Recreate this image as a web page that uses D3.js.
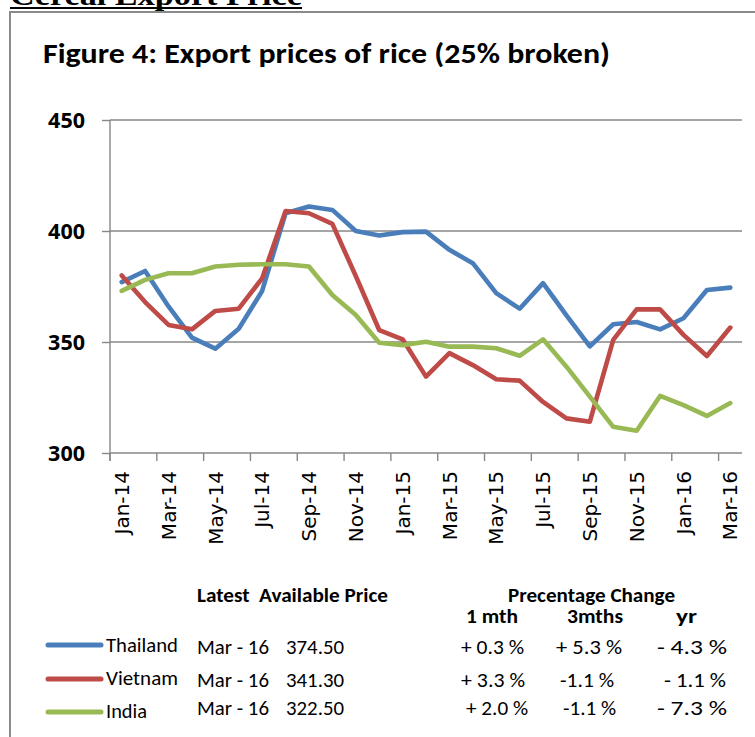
<!DOCTYPE html>
<html>
<head>
<meta charset="utf-8">
<script src="https://cdn.jsdelivr.net/npm/d3@7"></script>
<style>
  html, body { margin: 0; padding: 0; background: #fff; }
  svg { display: block; }
  svg text { white-space: pre; }
</style>
</head>
<body>
<svg id="chart" width="755" height="737"></svg>
<script>
// ---------------- DATA ----------------
const months = ["Jan-14","Feb-14","Mar-14","Apr-14","May-14","Jun-14","Jul-14","Aug-14","Sep-14","Oct-14","Nov-14","Dec-14",
  "Jan-15","Feb-15","Mar-15","Apr-15","May-15","Jun-15","Jul-15","Aug-15","Sep-15","Oct-15","Nov-15","Dec-15",
  "Jan-16","Feb-16","Mar-16"];
const seriesNames = ["Thailand", "Vietnam", "India"];
const thailand = [377, 382, 366, 352, 347, 356, 373, 408, 411, 409.5, 400, 398, 399.5, 399.7, 391.5, 385.5, 372, 365, 376.5, 362, 348, 358, 359, 355.7, 360.7, 373.4, 374.5];
const vietnam  = [380, 368, 357.7, 355.7, 364, 365, 378.7, 409, 408, 403.2, 379.7, 355.4, 351.2, 334.4, 345, 339.6, 333.2, 332.6, 323, 315.6, 314.1, 351, 364.7, 364.7, 353.2, 343.7, 356.5];
const india    = [373, 378, 381, 381, 384, 384.8, 385, 385, 384, 371.2, 362.2, 349.7, 348.6, 350.1, 347.9, 347.9, 347.2, 343.8, 351.2, 338.9, 325.4, 311.8, 310, 325.7, 321.6, 316.7, 322.5];
const yTicks = [300, 350, 400, 450];
const xLabelMonths = months.filter((m, i) => i % 2 === 0);

// table
const latestDates = ["Mar - 16", "Mar - 16", "Mar - 16"];
const latestPrices = ["374.50", "341.30", "322.50"];
const change1m = ["+ 0.3 %", "+ 3.3 %", "+ 2.0 %"];
const change3m = ["+ 5.3 %", "-1.1 %", "-1.1 %"];
const changeYr = ["- 4.3 %", "- 1.1 %", "- 7.3 %"];

// ---------------- STYLE ----------------
const colors = ["#4A7EBB", "#BE4B48", "#98B954"];
const gridColor = "#878787";
const calibri = "Calibri, Carlito, 'Open Sans', sans-serif";

const svg = d3.select("#chart");

// header (cut off at top)
svg.append("text")
  .attr("x", 10).attr("y", 5)
  .attr("font-family", "'Liberation Serif', 'Times New Roman', serif")
  .attr("font-weight", "bold").attr("font-size", 30)
  .attr("textLength", 292).attr("lengthAdjust", "spacingAndGlyphs")
  .text("Cereal Export Price");
svg.append("line").attr("x1", 10).attr("x2", 302).attr("y1", 8).attr("y2", 8)
  .attr("stroke", "#000").attr("stroke-width", 2);

// frame
svg.append("rect").attr("x", 10).attr("y", 12).attr("width", 800).attr("height", 800)
  .attr("fill", "none").attr("stroke", "#8a8a8a").attr("stroke-width", 2);

// title
svg.append("text")
  .attr("x", 43).attr("y", 63)
  .attr("font-family", calibri).attr("font-weight", "bold").attr("font-size", 28)
  .attr("textLength", 567).attr("lengthAdjust", "spacingAndGlyphs")
  .text("Figure 4: Export prices of rice (25% broken)");

// scales
const x = d3.scaleBand().domain(months).range([110, 742]).padding(0);
const cx = m => x(m) + x.bandwidth() / 2;
const y = d3.scaleLinear().domain([300, 450]).range([453, 120]);

// gridlines
svg.append("g").selectAll("line").data(yTicks).join("line")
  .attr("x1", 110).attr("x2", 742)
  .attr("y1", d => y(d)).attr("y2", d => y(d))
  .attr("stroke", gridColor).attr("stroke-width", 1.4);

// y axis
const yAxis = svg.append("g").attr("transform", "translate(110,0)")
  .call(d3.axisLeft(y).tickValues(yTicks).tickSize(8).tickPadding(17).tickFormat(d3.format("d")));
yAxis.select(".domain").attr("stroke", gridColor).attr("stroke-width", 1.4)
  .attr("d", `M0,${y(450)}V${y(300) + 8}`);
yAxis.selectAll(".tick line").attr("stroke", gridColor).attr("stroke-width", 1.4);
yAxis.selectAll(".tick text")
  .attr("font-family", "'Open Sans', sans-serif").attr("font-weight", "bold")
  .attr("font-size", 21.5).attr("fill", "#000").attr("dy", "0.36em");

// x axis ticks at band boundaries (every 2 months)
svg.append("g").selectAll("line").data(xLabelMonths).join("line")
  .attr("x1", d => x(d)).attr("x2", d => x(d))
  .attr("y1", y(300)).attr("y2", y(300) + 8)
  .attr("stroke", gridColor).attr("stroke-width", 1.4);

// x axis labels
const xAxis = svg.append("g").attr("transform", `translate(0,${y(300)})`)
  .call(d3.axisBottom(x).tickValues(xLabelMonths).tickSize(0));
xAxis.select(".domain").remove();
xAxis.selectAll(".tick text")
  .attr("font-family", "'DejaVu Sans', sans-serif").attr("font-size", 20).attr("fill", "#000")
  .attr("text-anchor", "end")
  .attr("transform", "rotate(-90)")
  .attr("x", -18).attr("y", 0).attr("dy", "0.36em");

// lines
const allSeries = [thailand, vietnam, india];
const line = d3.line().x((d, i) => cx(months[i])).y(d => y(d));
svg.append("g").selectAll("path").data(allSeries).join("path")
  .attr("d", d => line(d))
  .attr("fill", "none")
  .attr("stroke", (d, i) => colors[i])
  .attr("stroke-width", 4.6)
  .attr("stroke-linejoin", "round")
  .attr("stroke-linecap", "round");

// ---------------- TABLE ----------------
function t(xp, yp, str, len, opts = {}) {
  const el = svg.append("text").attr("x", xp).attr("y", yp)
    .attr("font-family", calibri).attr("font-size", opts.size || 20)
    .attr("font-weight", opts.bold ? "bold" : "normal")
    .attr("fill", "#000").text(str);
  if (len) el.attr("textLength", len).attr("lengthAdjust", "spacingAndGlyphs");
  return el;
}
t(197, 602, "Latest  Available Price", 191, { bold: true });
t(508, 602, "Precentage Change", 167, { bold: true });
t(466, 623, "1 mth", 52, { bold: true });
t(567, 623, "3mths", 56, { bold: true });
t(676, 623, "yr", 21, { bold: true });

const rowLineY = [645, 679, 712];
const nameBase = [652, 685, 718];
const nameLen = [72, 72, 41];
const valBase = [654, 687, 715];
const c1x = [[461, 63], [461, 64], [466, 62]];
const c3x = [[556, 66], [560, 54], [563, 53]];
const cyx = [[657, 70], [664, 62], [657, 70]];

seriesNames.forEach((name, i) => {
  svg.append("line").attr("x1", 48).attr("x2", 101)
    .attr("y1", rowLineY[i]).attr("y2", rowLineY[i])
    .attr("stroke", colors[i]).attr("stroke-width", 5).attr("stroke-linecap", "round");
  t(106, nameBase[i], name, nameLen[i], { size: 20.5 });
  t(197, valBase[i], latestDates[i], 72);
  t(286, valBase[i], latestPrices[i], 58);
  t(c1x[i][0], valBase[i], change1m[i], c1x[i][1]);
  t(c3x[i][0], valBase[i], change3m[i], c3x[i][1]);
  t(cyx[i][0], valBase[i], changeYr[i], cyx[i][1]);
});
</script>
</body>
</html>
